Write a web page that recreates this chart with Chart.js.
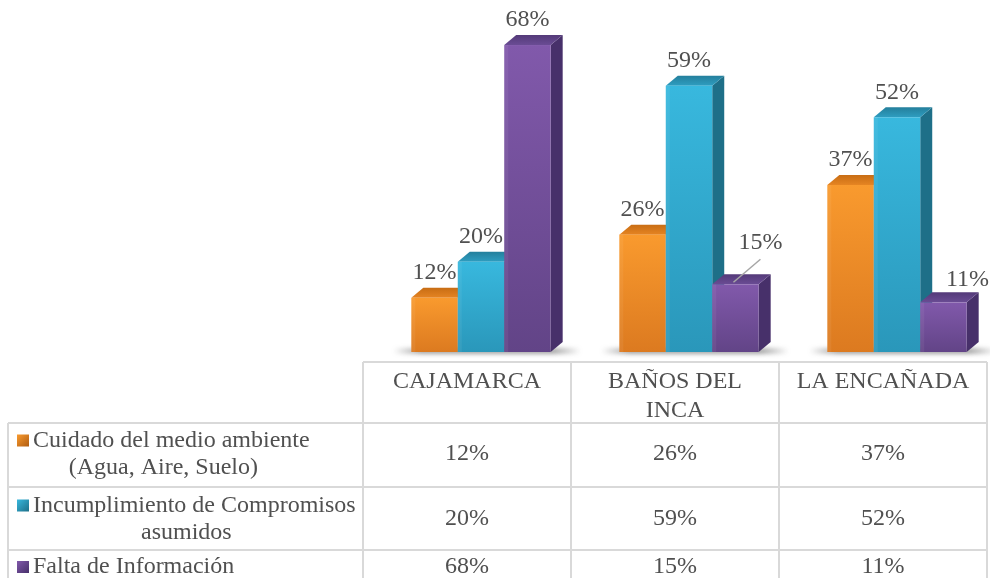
<!DOCTYPE html>
<html>
<head>
<meta charset="utf-8">
<script src="https://cdn.jsdelivr.net/npm/chart.js@4.4.1/dist/chart.umd.min.js"></script>
<style>
  html, body { margin: 0; padding: 0; background: #fff; overflow: hidden; }
  #c { display: block; }
</style>
</head>
<body>
<canvas id="c" width="990" height="578"></canvas>
<script>
/* Barras 3D + tabla de datos debajo. */

const places = [['CAJAMARCA'], ['BAÑOS DEL', 'INCA'], ['LA ENCAÑADA']];
const seriesNames = [
  ['Cuidado del medio ambiente', '(Agua, Aire, Suelo)'],
  ['Incumplimiento de Compromisos', 'asumidos'],
  ['Falta de Información']
];
const cuidado = [12, 26, 37];
const incumplimiento = [20, 59, 52];
const faltaInfo = [68, 15, 11];

const palette = [
  { front: ['#f99a2e', '#dc7a20'], top: ['#e58422', '#c86d14'], side: '#b05d12' },
  { front: ['#38b8de', '#2a97ba'], top: ['#2e9dc0', '#247f9c'], side: '#1e6f88' },
  { front: ['#8159ab', '#624487'], top: ['#6a4c94', '#543a79'], side: '#47306a' }
];

const FONT = '24px "Liberation Serif", "Times New Roman", serif';
const TXT = '#505050';
const LINE = '#d9d9d9';
const DX = 12, DY = -10, SHIFT = 14;

// etiquetas que Excel movió a un lado
const labelNudge = { '2-1': { dx: 25, dy: -17, leader: true }, '2-2': { dx: 24, dy: 2 } };

const bars3d = {
  id: 'bars3d',
  afterDatasetsDraw(chart) {
    const ctx = chart.ctx;
    const metas = chart.data.datasets.map((d, i) => chart.getDatasetMeta(i));
    const n = chart.data.labels.length;
    ctx.save();
    ctx.translate(SHIFT, 0);
    for (let i = 0; i < n; i++) {
      const first = metas[0].data[i], last = metas[metas.length - 1].data[i];
      const gl = first.x - first.width / 2 - 18;
      const gr = last.x + last.width / 2 + DX + 18;
      const base = first.base;
      // sombra en el piso
      ctx.save();
      ctx.filter = 'blur(2px)';
      const sg = ctx.createLinearGradient(gl, 0, gr, 0);
      sg.addColorStop(0, 'rgba(90,90,90,0)');
      sg.addColorStop(0.15, 'rgba(90,90,90,0.55)');
      sg.addColorStop(0.85, 'rgba(90,90,90,0.55)');
      sg.addColorStop(1, 'rgba(90,90,90,0)');
      ctx.fillStyle = sg;
      ctx.fillRect(gl, base - 4, gr - gl, 6);
      ctx.restore();

      metas.forEach((m, k) => {
        const el = m.data[i], c = palette[k];
        const l = el.x - el.width / 2, r = el.x + el.width / 2, t = el.y, b = el.base;
        // lado
        ctx.fillStyle = c.side;
        ctx.beginPath();
        ctx.moveTo(r, t); ctx.lineTo(r + DX, t + DY); ctx.lineTo(r + DX, b + DY); ctx.lineTo(r, b);
        ctx.closePath(); ctx.fill();
        // tapa
        const tg = ctx.createLinearGradient(0, t + DY, 0, t);
        tg.addColorStop(0, c.top[1]); tg.addColorStop(1, c.top[0]);
        ctx.fillStyle = tg;
        ctx.beginPath();
        ctx.moveTo(l, t); ctx.lineTo(l + DX, t + DY); ctx.lineTo(r + DX, t + DY); ctx.lineTo(r, t);
        ctx.closePath(); ctx.fill();
        // frente
        const fg = ctx.createLinearGradient(0, t, 0, b);
        fg.addColorStop(0, c.front[0]); fg.addColorStop(1, c.front[1]);
        ctx.fillStyle = fg;
        ctx.fillRect(l, t, r - l, b - t);
        ctx.fillStyle = 'rgba(255,255,255,0.06)';
        ctx.fillRect(l, t, 4, b - t);
      });
    }
    ctx.restore();

    // etiquetas de valor
    ctx.save();
    ctx.font = FONT;
    ctx.fillStyle = TXT;
    ctx.textAlign = 'center';
    ctx.textBaseline = 'middle';
    metas.forEach((m, k) => {
      m.data.forEach((el, i) => {
        const nd = labelNudge[k + '-' + i] || { dx: 0, dy: 0 };
        const cx = el.x + SHIFT, lx = cx + nd.dx, ly = el.y - 25 + nd.dy;
        if (nd.leader) {
          ctx.strokeStyle = '#a6a6a6';
          ctx.lineWidth = 1.5;
          ctx.beginPath();
          ctx.moveTo(cx - 2, el.y - 2);
          ctx.lineTo(lx, ly + 17);
          ctx.stroke();
        }
        ctx.fillText(chart.data.datasets[k].data[i] + '%', lx, ly);
      });
    });
    ctx.restore();
  }
};

const dataTable = {
  id: 'dataTable',
  afterDraw(chart) {
    const ctx = chart.ctx;
    const xs = chart.scales.x, area = chart.chartArea;
    const n = chart.data.labels.length;
    const cw = (area.right - area.left) / n;
    const edges = [];
    for (let i = 0; i <= n; i++) edges.push(area.left + i * cw);
    const tableLeft = 8;
    const rowEdges = [362, 423, 487, 550, 613];
    const headerLineY = 382, lh = 27;
    const rowTextY = [454, 519, 567];

    ctx.save();
    ctx.strokeStyle = LINE;
    ctx.lineWidth = 2;
    ctx.beginPath();
    // cabecera
    ctx.moveTo(edges[0], rowEdges[0]); ctx.lineTo(edges[n], rowEdges[0]);
    for (let r = 1; r < rowEdges.length; r++) {
      ctx.moveTo(tableLeft, rowEdges[r]); ctx.lineTo(edges[n], rowEdges[r]);
    }
    edges.forEach(x => { ctx.moveTo(x, rowEdges[0]); ctx.lineTo(x, 578); });
    ctx.moveTo(tableLeft, rowEdges[1]); ctx.lineTo(tableLeft, 578);
    ctx.stroke();

    ctx.font = FONT;
    ctx.fillStyle = TXT;
    ctx.textBaseline = 'middle';
    ctx.textAlign = 'center';
    chart.data.labels.forEach((lines, i) => {
      const cx = xs.getPixelForValue(i);
      lines.forEach((s, j) => ctx.fillText(s, cx, headerLineY + j * 29));
    });

    chart.data.datasets.forEach((ds, k) => {
      const names = seriesNames[k];
      const y0 = rowTextY[k] - (names.length - 1) * lh / 2;
      const mx = 17, ms = 12;
      // marcador de leyenda
      const c = palette[k];
      const g = ctx.createLinearGradient(mx, y0 - ms / 2, mx + ms, y0 + ms / 2);
      g.addColorStop(0, c.front[0]); g.addColorStop(1, c.side);
      ctx.fillStyle = g;
      ctx.fillRect(mx, y0 - ms / 2, ms, ms);
      ctx.fillStyle = TXT;
      ctx.textAlign = 'left';
      ctx.fillText(names[0], 33, y0);
      const w0 = ctx.measureText(names[0]).width;
      const mid = (mx + 33 + w0) / 2;
      ctx.textAlign = 'center';
      for (let j = 1; j < names.length; j++) ctx.fillText(names[j], mid, y0 + j * lh);
      ds.data.forEach((v, i) => ctx.fillText(v + '%', xs.getPixelForValue(i), rowTextY[k]));
    });
    ctx.restore();
  }
};

new Chart(document.getElementById('c'), {
  type: 'bar',
  data: {
    labels: places,
    datasets: [
      { label: seriesNames[0].join(' '), data: cuidado },
      { label: seriesNames[1].join(' '), data: incumplimiento },
      { label: seriesNames[2].join(' '), data: faltaInfo }
    ].map(d => ({ ...d, backgroundColor: 'rgba(0,0,0,0)', borderWidth: 0,
                 categoryPercentage: 0.67, barPercentage: 1.0 }))
  },
  options: {
    responsive: false,
    animation: false,
    layout: { padding: { left: 363, right: 3, top: 36, bottom: 226 } },
    plugins: { legend: { display: false }, tooltip: { enabled: false } },
    scales: {
      x: { display: false },
      y: { display: false, min: 0, max: 70 }
    }
  },
  plugins: [bars3d, dataTable]
});
</script>
</body>
</html>
